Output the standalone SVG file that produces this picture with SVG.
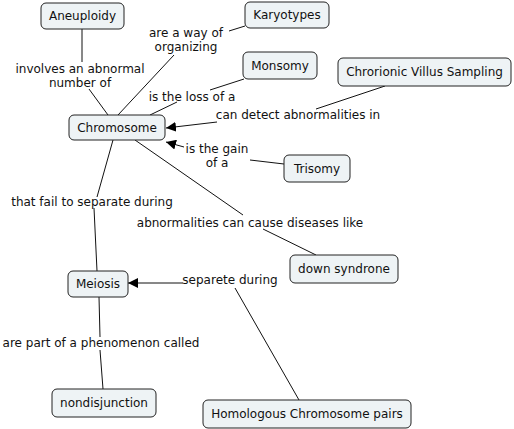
<svg xmlns="http://www.w3.org/2000/svg" width="514" height="429" viewBox="0 0 514 429">
<defs>
<style>
.n rect{fill:#eef3f5;stroke:#222;stroke-width:1}
text{font-family:"DejaVu Sans",Verdana,sans-serif;font-size:12px;fill:#111;text-anchor:middle}
.c line{stroke:#111;stroke-width:1}
</style>
<marker id="ah" viewBox="0 0 10 10" refX="10" refY="5" markerWidth="10" markerHeight="10" markerUnits="userSpaceOnUse" orient="auto">
<path d="M0,0 L10,5 L0,10 z" fill="#000"/>
</marker>
</defs>
<rect width="514" height="429" fill="#fff"/>
<g class="c">
<line x1="82" y1="29" x2="82" y2="62"/>
<line x1="89" y1="89" x2="108" y2="115"/>
<line x1="118" y1="115" x2="174" y2="55"/>
<line x1="229" y1="31" x2="245" y2="26"/>
<line x1="150" y1="115" x2="177" y2="102"/>
<line x1="210" y1="90" x2="244" y2="79"/>
<line x1="385" y1="86" x2="316" y2="109"/>
<line x1="217" y1="122" x2="166" y2="128" marker-end="url(#ah)"/>
<line x1="284" y1="164" x2="250" y2="160"/>
<line x1="184" y1="147" x2="166" y2="142" marker-end="url(#ah)"/>
<line x1="113" y1="140" x2="97" y2="197"/>
<line x1="94" y1="208" x2="97" y2="271"/>
<line x1="135" y1="140" x2="243" y2="215"/>
<line x1="263" y1="229" x2="316" y2="255"/>
<line x1="183" y1="283" x2="128" y2="283" marker-end="url(#ah)"/>
<line x1="299" y1="400" x2="235" y2="288"/>
<line x1="99" y1="297" x2="100" y2="337"/>
<line x1="100" y1="350" x2="103" y2="389"/>
</g>
<g class="l">
<text x="186" y="37">are a way of</text>
<text x="186" y="51">organizing</text>
<text x="80" y="73">involves an abnormal</text>
<text x="80" y="87">number of</text>
<text x="192" y="101">is the loss of a</text>
<text x="298" y="119">can detect abnormalities in</text>
<text x="217" y="153">is the gain</text>
<text x="217" y="167">of a</text>
<text x="92" y="206">that fail to separate during</text>
<text x="250" y="227">abnormalities can cause diseases like</text>
<text x="230" y="284">separete during</text>
<text x="101" y="347">are part of a phenomenon called</text>
</g>
<g class="n" id="aneuploidy"><rect x="41" y="3" width="83" height="26" rx="5"/><text x="82.5" y="20">Aneuploidy</text></g>
<g class="n" id="karyotypes"><rect x="245" y="2" width="84" height="26" rx="5"/><text x="287" y="19">Karyotypes</text></g>
<g class="n" id="monsomy"><rect x="243" y="52" width="74" height="27" rx="5"/><text x="280" y="70">Monsomy</text></g>
<g class="n" id="cvs"><rect x="338" y="58" width="173" height="28" rx="5"/><text x="424.5" y="76">Chrorionic Villus Sampling</text></g>
<g class="n" id="chromosome"><rect x="69" y="115" width="96" height="25" rx="5"/><text x="117" y="132">Chromosome</text></g>
<g class="n" id="trisomy"><rect x="284" y="155" width="66" height="27" rx="5"/><text x="317" y="173">Trisomy</text></g>
<g class="n" id="down"><rect x="290" y="255" width="108" height="28" rx="5"/><text x="344" y="273">down syndrone</text></g>
<g class="n" id="meiosis"><rect x="68" y="271" width="60" height="26" rx="5"/><text x="98" y="288">Meiosis</text></g>
<g class="n" id="nondisjunction"><rect x="52" y="389" width="104" height="28" rx="5"/><text x="104" y="407">nondisjunction</text></g>
<g class="n" id="homologous"><rect x="203" y="400" width="208" height="28" rx="5"/><text x="307" y="418">Homologous Chromosome pairs</text></g>
</svg>
